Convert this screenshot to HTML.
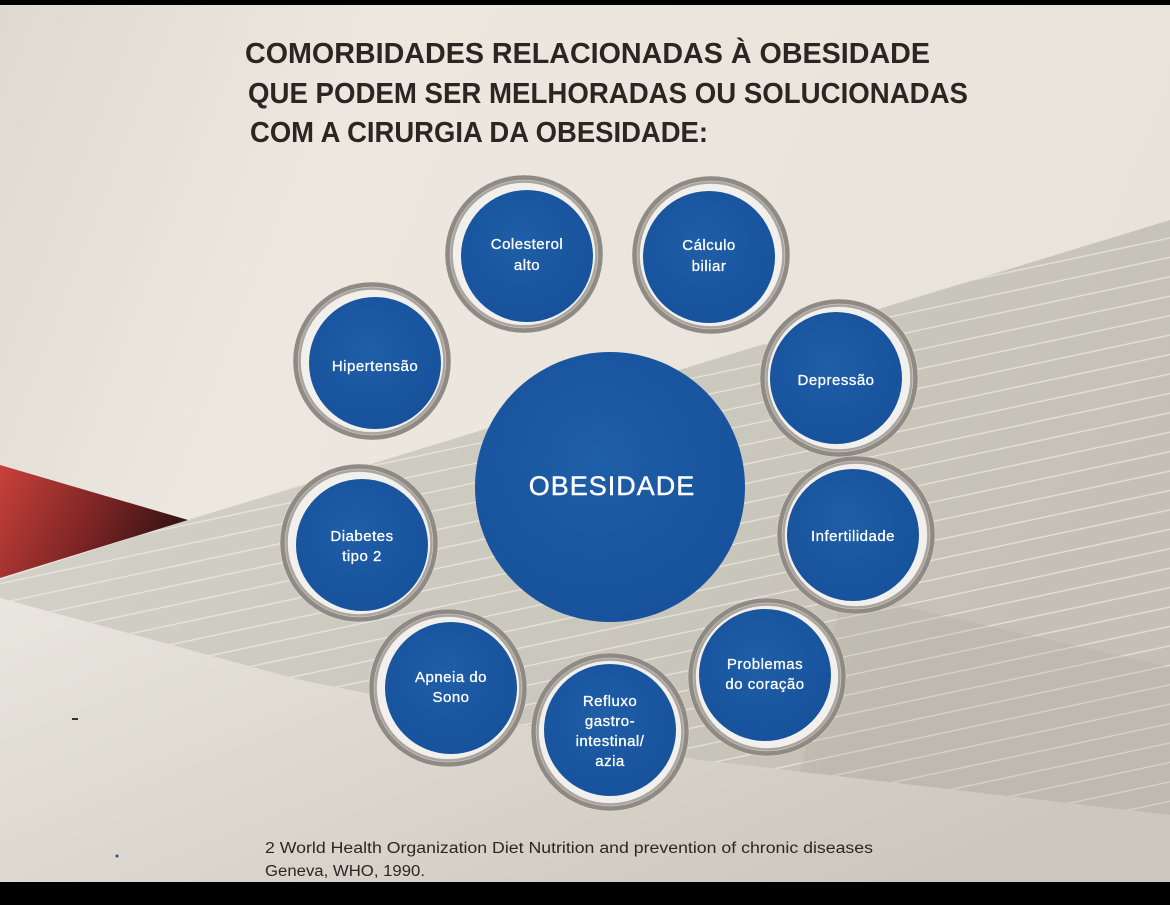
<!DOCTYPE html>
<html><head><meta charset="utf-8"><style>
html,body{margin:0;padding:0;background:#000}
svg{display:block}
</style></head><body>
<svg width="1170" height="905" viewBox="0 0 1170 905" xmlns="http://www.w3.org/2000/svg" font-family="Liberation Sans, DejaVu Sans, sans-serif">
<defs>
<linearGradient id="bg" x1="0" y1="0" x2="1" y2="0.3">
<stop offset="0" stop-color="#dedad1"/><stop offset="0.3" stop-color="#ece8df"/><stop offset="1" stop-color="#e8e3da"/>
</linearGradient>
<linearGradient id="band" x1="0" y1="0" x2="1" y2="0.4">
<stop offset="0" stop-color="#d6d5cc"/><stop offset="1" stop-color="#c4c0b5"/>
</linearGradient>
<linearGradient id="red" x1="0" y1="0" x2="1" y2="0.3">
<stop offset="0" stop-color="#c9413b"/><stop offset="0.6" stop-color="#7a2424"/><stop offset="1" stop-color="#3a1414"/>
</linearGradient>
<linearGradient id="low" x1="0" y1="0" x2="1" y2="0.6">
<stop offset="0" stop-color="#e9e6df"/><stop offset="1" stop-color="#cdc8bd"/>
</linearGradient>
<pattern id="stripes" patternUnits="userSpaceOnUse" width="1400" height="19" patternTransform="rotate(-12)">
<line x1="0" y1="1" x2="1400" y2="1" stroke="#f0eee8" stroke-width="1.3" opacity="0.75"/>
</pattern>
<radialGradient id="blue" cx="0.45" cy="0.4" r="0.65">
<stop offset="0" stop-color="#1f5ea8"/><stop offset="1" stop-color="#17519b"/>
</radialGradient>
<g id="ring">
<circle r="79" fill="#8f8a84"/>
<circle r="74" fill="#aaa59e"/>
<circle r="71" fill="#f2f0ec"/>
</g>
</defs>
<rect width="1170" height="905" fill="url(#bg)"/>
<polygon points="0,598 300,680 700,760 1170,815 1170,882 0,882" fill="url(#low)"/>
<polygon points="188,520 1170,220 1170,815 700,760 300,680 0,598 0,580" fill="url(#band)"/>
<polygon points="188,520 1170,220 1170,815 700,760 300,680 0,598 0,580" fill="url(#stripes)"/>
<polygon points="843,593 1170,667 1170,815 800,772" fill="#a9a499" opacity="0.22"/>
<polygon points="0,465 188,520 0,578" fill="url(#red)"/>
<rect x="0" y="0" width="1170" height="5" fill="#000"/>
<rect x="0" y="882" width="1170" height="23" fill="#000"/>
<g font-weight="bold" fill="#2b2622" font-size="29">
<text x="245" y="63" textLength="685" lengthAdjust="spacingAndGlyphs">COMORBIDADES  RELACIONADAS  À  OBESIDADE</text>
<text x="248" y="103" textLength="720" lengthAdjust="spacingAndGlyphs">QUE PODEM SER MELHORADAS OU SOLUCIONADAS</text>
<text x="250" y="142" textLength="458" lengthAdjust="spacingAndGlyphs">COM A CIRURGIA DA OBESIDADE:</text>
</g>
<circle cx="610" cy="487" r="135" fill="url(#blue)"/>
<text x="612" y="495" fill="#fff" font-size="27" text-anchor="middle" letter-spacing="1" stroke="#fff" stroke-width="0.4">OBESIDADE</text>
<g fill="#fff" font-size="15" text-anchor="middle" letter-spacing="0.5" stroke="#fff" stroke-width="0.3">
<g transform="translate(527,256)"><use href="#ring" x="-3" y="-2"/><circle r="66" fill="url(#blue)" stroke="none"/><text y="-7">Colesterol</text><text y="14">alto</text></g>
<g transform="translate(709,257)"><use href="#ring" x="2" y="-2"/><circle r="66" fill="url(#blue)" stroke="none"/><text y="-7">Cálculo</text><text y="14">biliar</text></g>
<g transform="translate(375,363)"><use href="#ring" x="-3" y="-2"/><circle r="66" fill="url(#blue)" stroke="none"/><text y="8">Hipertensão</text></g>
<g transform="translate(836,378)"><use href="#ring" x="3" y="0"/><circle r="66" fill="url(#blue)" stroke="none"/><text y="7">Depressão</text></g>
<g transform="translate(362,545)"><use href="#ring" x="-3" y="-2"/><circle r="66" fill="url(#blue)" stroke="none"/><text y="-4">Diabetes</text><text y="16">tipo 2</text></g>
<g transform="translate(853,535)"><use href="#ring" x="3" y="0"/><circle r="66" fill="url(#blue)" stroke="none"/><text y="6">Infertilidade</text></g>
<g transform="translate(451,688)"><use href="#ring" x="-3" y="0"/><circle r="66" fill="url(#blue)" stroke="none"/><text y="-6">Apneia do</text><text y="14">Sono</text></g>
<g transform="translate(610,730)"><use href="#ring" x="0" y="2"/><circle r="66" fill="url(#blue)" stroke="none"/><text y="-24">Refluxo</text><text y="-4">gastro-</text><text y="16">intestinal/</text><text y="36">azia</text></g>
<g transform="translate(765,675)"><use href="#ring" x="2" y="2"/><circle r="66" fill="url(#blue)" stroke="none"/><text y="-6">Problemas</text><text y="14">do coração</text></g>
</g>
<g fill="#2b2622" font-size="15.5">
<text x="265" y="853" textLength="608" lengthAdjust="spacingAndGlyphs">2 World Health Organization Diet Nutrition and prevention of chronic diseases</text>
<text x="265" y="876" textLength="160" lengthAdjust="spacingAndGlyphs">Geneva, WHO, 1990.</text>
</g>
<circle cx="117" cy="856" r="1.5" fill="#2a4a8a"/>
<rect x="72" y="718" width="6" height="2" fill="#333"/>
</svg>
</body></html>
